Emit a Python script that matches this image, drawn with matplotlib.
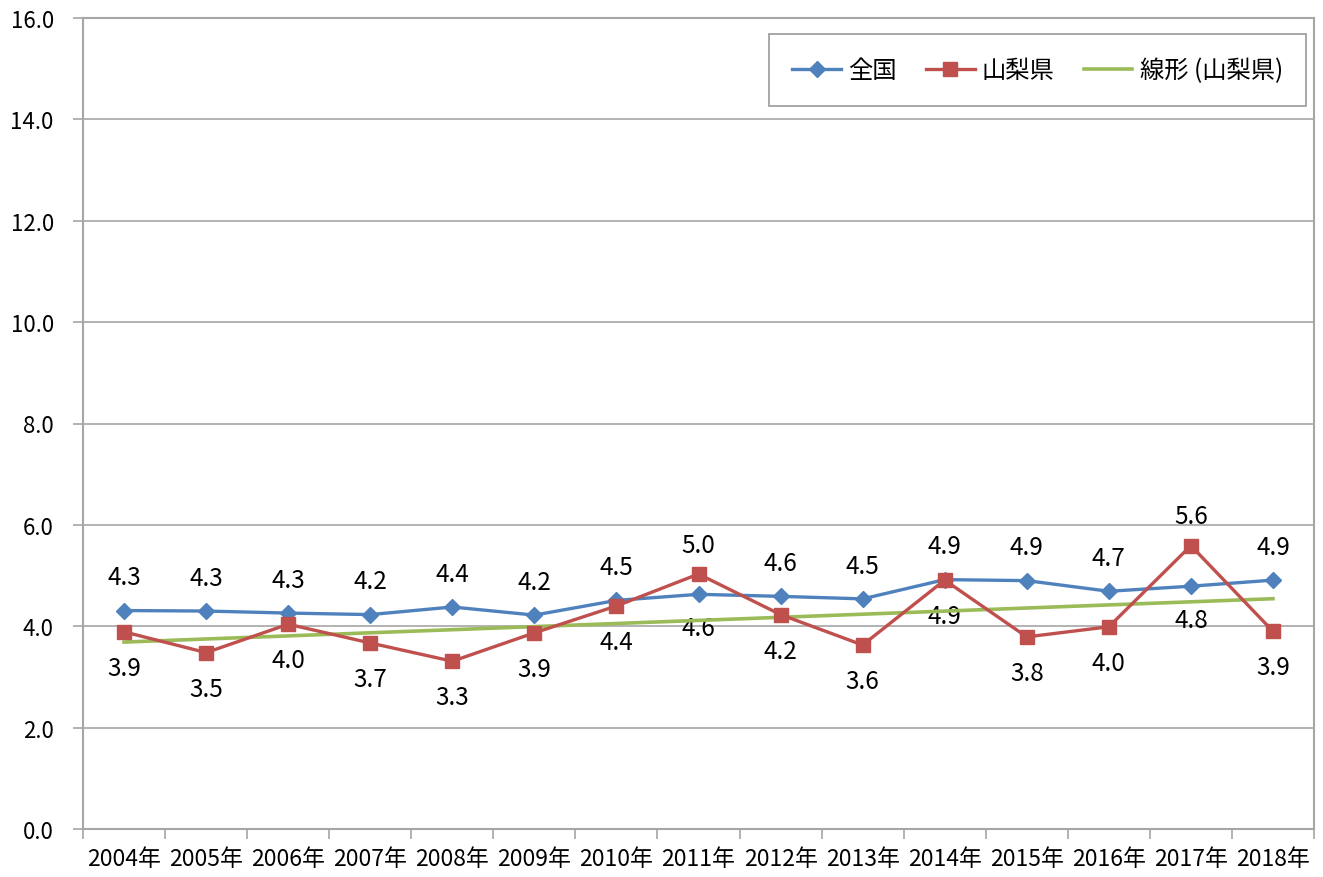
import matplotlib
matplotlib.use('Agg')

import matplotlib.pyplot as plt
import numpy as np

plt.rcParams['font.family'] = ['Noto Sans CJK JP', 'DejaVu Sans']

BLUE = "#4F81BD"
RED = "#C0504D"
GREEN = "#9BBB59"
GRID = "#A6A6A6"

years = ["2004年", "2005年", "2006年", "2007年", "2008年", "2009年", "2010年", "2011年",
         "2012年", "2013年", "2014年", "2015年", "2016年", "2017年", "2018年"]
national = [4.31, 4.30, 4.26, 4.23, 4.38, 4.22, 4.51, 4.63, 4.59, 4.54, 4.92, 4.90, 4.69, 4.79, 4.91]
yamanashi = [3.89, 3.48, 4.04, 3.67, 3.31, 3.87, 4.40, 5.03, 4.23, 3.63, 4.91, 3.79, 3.99, 5.59, 3.90]

x = np.arange(len(years))
slope, icpt = np.polyfit(x, yamanashi, 1)
trend = slope * x + icpt

fig = plt.figure(figsize=(13.23, 8.78), dpi=100)
ax = fig.add_axes([83/1323, 48/878, 1231/1323, 811/878])

ax.plot(x, national, '-D', color=BLUE, lw=2.4, ms=8, label='全国', zorder=4)
ax.plot(x, yamanashi, '-s', color=RED, lw=2.4, ms=10, label='山梨県', zorder=5)
ax.plot(x, trend, '-', color=GREEN, lw=2.6, label='線形 (山梨県)', zorder=3)

LBL = 17.5
# larger value gets its label above, smaller one below
for i in range(len(x)):
    n, y = national[i], yamanashi[i]
    if n >= y:
        ax.annotate(f'{n:.1f}', (x[i], n), xytext=(0, 24), textcoords='offset points',
                    ha='center', va='center', fontsize=LBL, zorder=2)
        ax.annotate(f'{y:.1f}', (x[i], y), xytext=(0, -26), textcoords='offset points',
                    ha='center', va='center', fontsize=LBL, zorder=2)
    else:
        ax.annotate(f'{y:.1f}', (x[i], y), xytext=(0, 21), textcoords='offset points',
                    ha='center', va='center', fontsize=LBL, zorder=2)
        ax.annotate(f'{n:.1f}', (x[i], n), xytext=(0, -24), textcoords='offset points',
                    ha='center', va='center', fontsize=LBL, zorder=2)

ax.set_xlim(-0.5, len(x) - 0.5)
ax.set_ylim(0, 16)
ax.set_yticks(np.arange(0, 16.1, 2))
ax.set_yticklabels([f'{v:.1f}' for v in np.arange(0, 16.1, 2)], fontsize=16)
ax.set_xticks(x)
ax.set_xticklabels(years, fontsize=16.5)
ax.set_xticks(np.arange(-0.5, len(x), 1), minor=True)
ax.tick_params(axis='x', which='major', length=0, pad=13)
ax.tick_params(axis='x', which='minor', length=7, color=GRID, width=1.2)
ax.tick_params(axis='y', length=7, color=GRID, width=1.2, pad=14)
ax.grid(axis='y', color=GRID, lw=1.2, zorder=0)
for s in ax.spines.values():
    s.set_color(GRID)
    s.set_linewidth(1.5)

leg = ax.legend(loc='upper right', ncol=3, fontsize=17.5, frameon=True, fancybox=False,
                edgecolor='#808080', borderpad=0.95, handlelength=2.0, columnspacing=1.2,
                handletextpad=0.3, borderaxespad=0, bbox_to_anchor=(0.9935, 0.98))
leg.get_frame().set_linewidth(1.2)

fig.savefig('out.png', dpi=100)
